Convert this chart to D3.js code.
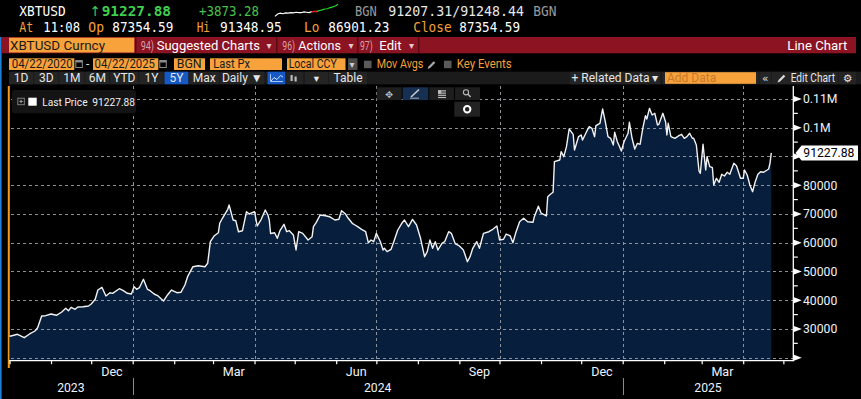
<!DOCTYPE html>
<html><head><meta charset="utf-8">
<script src="https://cdn.jsdelivr.net/npm/d3@7"></script>
<style>html,body{margin:0;padding:0;background:#000;overflow:hidden}svg{display:block}</style>
</head><body><svg id="c" width="861" height="399"></svg>
<script>
// ---------- DATA ----------
const dates = ["2023-10-01","2023-10-02","2023-10-07","2023-10-12","2023-10-16","2023-10-20","2023-10-22","2023-10-25","2023-10-28","2023-11-01","2023-11-05","2023-11-09","2023-11-12","2023-11-14","2023-11-16","2023-11-19","2023-11-21","2023-11-25","2023-11-29","2023-12-01","2023-12-04","2023-12-06","2023-12-09","2023-12-12","2023-12-15","2023-12-17","2023-12-22","2023-12-25","2023-12-28","2023-12-31",
"2024-01-02","2024-01-04","2024-01-06","2024-01-09","2024-01-12","2024-01-14","2024-01-17","2024-01-20","2024-01-24","2024-01-27","2024-01-30","2024-02-03","2024-02-06","2024-02-09","2024-02-11","2024-02-15","2024-02-19","2024-02-24","2024-02-26","2024-02-28","2024-03-02","2024-03-05","2024-03-06","2024-03-08","2024-03-12","2024-03-13","2024-03-16","2024-03-18","2024-03-20","2024-03-23","2024-03-26","2024-03-28","2024-04-01","2024-04-03","2024-04-06","2024-04-09","2024-04-11","2024-04-12","2024-04-13","2024-04-16","2024-04-18","2024-04-20","2024-04-23","2024-04-25","2024-04-27","2024-04-30","2024-05-02","2024-05-04","2024-05-07","2024-05-11","2024-05-14","2024-05-15","2024-05-17","2024-05-20","2024-05-24","2024-05-27","2024-05-31","2024-06-03","2024-06-05","2024-06-08","2024-06-10","2024-06-13","2024-06-15","2024-06-17","2024-06-20","2024-06-23","2024-06-25","2024-06-27","2024-06-29","2024-07-01","2024-07-04","2024-07-06","2024-07-07","2024-07-09","2024-07-12","2024-07-14","2024-07-17","2024-07-20","2024-07-22","2024-07-25","2024-07-28","2024-07-31","2024-08-03","2024-08-06","2024-08-08","2024-08-10","2024-08-12","2024-08-14","2024-08-16","2024-08-19","2024-08-21","2024-08-24","2024-08-26","2024-08-29","2024-09-01","2024-09-04","2024-09-07","2024-09-09","2024-09-11","2024-09-14","2024-09-16","2024-09-19","2024-09-23","2024-09-26","2024-09-29","2024-10-01","2024-10-04","2024-10-06","2024-10-09","2024-10-11","2024-10-13","2024-10-16","2024-10-19","2024-10-22","2024-10-26","2024-10-27","2024-10-30","2024-11-01","2024-11-05","2024-11-06","2024-11-08","2024-11-10","2024-11-11","2024-11-15","2024-11-16","2024-11-18","2024-11-20","2024-11-22","2024-11-25","2024-11-26","2024-11-29","2024-12-01","2024-12-02","2024-12-05","2024-12-07","2024-12-09","2024-12-11","2024-12-12","2024-12-15","2024-12-17","2024-12-19","2024-12-21","2024-12-23","2024-12-25","2024-12-26","2024-12-28","2024-12-30","2024-12-31",
"2025-01-02","2025-01-05","2025-01-06","2025-01-08","2025-01-10","2025-01-12","2025-01-14","2025-01-16","2025-01-18","2025-01-19","2025-01-21","2025-01-23","2025-01-25","2025-01-27","2025-01-28","2025-01-31","2025-02-02","2025-02-03","2025-02-04","2025-02-06","2025-02-09","2025-02-12","2025-02-14","2025-02-16","2025-02-18","2025-02-20","2025-02-22","2025-02-23","2025-02-25","2025-02-27","2025-02-28","2025-03-02","2025-03-04","2025-03-05","2025-03-07","2025-03-09","2025-03-10","2025-03-12","2025-03-14","2025-03-16","2025-03-18","2025-03-20","2025-03-22","2025-03-25","2025-03-27","2025-03-30","2025-04-01","2025-04-02","2025-04-04","2025-04-06","2025-04-08","2025-04-10","2025-04-12","2025-04-14","2025-04-16","2025-04-19","2025-04-20","2025-04-21","2025-04-22"];
const prices = [27400,27550,28140,26960,28250,29290,30440,34500,34610,35200,34750,35900,37190,36350,37530,36840,37640,37740,37990,38680,40320,43550,44490,41470,42610,42400,44000,43310,42400,42160,
44700,43800,44350,47270,43800,43310,42160,41470,39730,41820,43550,42610,42750,45290,48180,51660,52010,51660,52840,60360,62440,63490,66760,68500,71630,73120,67910,67660,63830,64180,70800,69990,70800,65820,68150,71380,69650,67910,63200,63490,61540,64180,66410,63830,64180,62690,57470,63830,63270,60950,62100,65580,66970,69650,69400,69050,67910,68150,71140,69990,68500,66760,66170,65580,64670,63830,60010,60950,60360,63270,60360,57470,58060,56880,57710,60360,64430,66760,67910,65580,68150,66170,61540,55140,56880,60950,58060,60360,57470,59790,60360,63830,63270,59560,58860,57470,53400,55140,58060,60360,58060,63270,63830,64670,65820,60950,61190,63030,62340,60010,63270,67320,68500,67320,67100,69050,72700,70300,69300,76000,76850,77540,88190,88780,91670,89930,93410,99570,97720,92260,96890,97480,95740,98630,100370,99810,96890,100710,101550,106520,102110,96890,96330,94000,98420,95150,93060,91910,
95150,98070,101900,96330,92610,94590,94240,99810,104190,103040,106760,104430,105030,100960,101200,105030,102110,97480,101550,96890,96330,97230,97720,96330,96890,98070,96330,96330,94000,84950,84150,94240,85300,89930,86450,86100,80080,82410,81020,83800,83210,84500,83800,87630,86800,82410,82410,85300,83560,80080,77750,81230,83800,84710,84500,85300,85650,87630,91227.88];
const yTicks = [20000,30000,40000,50000,60000,70000,80000,90000,100000,110000];
const yTickLabels = ["","30000","40000","50000","60000","70000","80000","","0.1M","0.11M"];
const yMinorTicks = [25000,35000,45000,55000,65000,75000,85000,95000,105000];
const gridDates = ["2024-01-01","2024-04-01","2024-07-01","2024-10-01","2025-01-01","2025-04-01"];
const monthLabelMonths = ["2023-12","2024-03","2024-06","2024-09","2024-12","2025-03"];
const monthLabelText = ["Dec","Mar","Jun","Sep","Dec","Mar"];
const yearLabels = ["2023","2024","2025"];
const lastPrice = 91227.88;
const lastPriceText = "91227.88";
const sparkValues = [87100,87900,88200,88000,88300,88200,88400,88300,88500,88400,88350,88600,88500,88400,88700,88750,88800,89100,89300,89600,89700,90100,90300,90600,91227];
const sparkSplit = 14;

// ---------- SETUP ----------
const svg = d3.select("#c");
const W = 861, H = 399;
const PX0 = 9, PX1 = 793.3, PY0 = 86, PY1 = 360.7;
const parse = d3.utcParse("%Y-%m-%d");
const parseM = d3.utcParse("%Y-%m");
const UI = "Roboto, 'Liberation Sans', sans-serif";
const MONO = "'DejaVu Sans Mono', 'Liberation Mono', monospace";
const SYM = "'DejaVu Sans', sans-serif";
const ORANGE = "#f7a23a", ORANGE_T = "#f5a03a", GREEN = "#3fcf4f";

svg.append("rect").attr("width",W).attr("height",H).attr("fill","#000");

function txt(x,y,s,o={}){
  const t = svg.append("text").attr("x",x).attr("y",y).text(s)
    .attr("font-family",o.f||UI).attr("font-size",o.s||13)
    .attr("font-weight",o.w||"normal").attr("fill",o.c||"#fff")
    .attr("text-anchor",o.a||"start");
  if(o.L) t.attr("textLength",o.L).attr("lengthAdjust","spacingAndGlyphs");
  return t;
}
function pencil(x,y,c){ // small pencil icon drawn as a path, (x,y)=bottom-left tip
  svg.append("path").attr("d",`M${x},${y} L${x+1},${y-2.6} L${x+6.2},${y-7.8} L${x+7.8},${y-6.2} L${x+2.6},${y-1} Z`).attr("fill",c);
}

// ---------- HEADER ROW 1 ----------
txt(19.3,15.8,"XBTUSD",{f:MONO,s:13.3,L:46.4});
txt(89.5,16,"↑",{f:SYM,s:13.5,c:GREEN});
txt(101.7,16.2,"91227.88",{f:MONO,s:14.6,w:"bold",c:GREEN,L:69.3});
txt(199,15.8,"+3873.28",{f:MONO,s:13.3,c:"#48c048",L:60});
const sx = d3.scaleLinear().domain([0,sparkValues.length-1]).range([275,338]);
const sy = d3.scaleLinear().domain([87000,91300]).range([16.7,4]);
const spts = sparkValues.map((v,i)=>[i,v]);
const sl = d3.line().x(d=>sx(d[0])).y(d=>sy(d[1]));
svg.append("path").attr("d",sl(spts.slice(0,sparkSplit+1))).attr("fill","none").attr("stroke","#fff").attr("stroke-width",1.2);
svg.append("path").attr("d",sl(spts.slice(sparkSplit,sparkSplit+3))).attr("fill","none").attr("stroke","#e02020").attr("stroke-width",1.6);
svg.append("path").attr("d",sl(spts.slice(sparkSplit+2))).attr("fill","none").attr("stroke","#22dd22").attr("stroke-width",1.2);
txt(355,15.8,"BGN",{f:MONO,s:13.3,c:"#9a9a9a",L:21.7});
txt(388.3,15.8,"91207.31/91248.44",{f:MONO,s:13.3,c:"#e8e8e8",L:135.7});
txt(533.3,15.8,"BGN",{f:MONO,s:13.3,c:"#9a9a9a",L:23.3});

// ---------- HEADER ROW 2 ----------
[["At",19.3,14,ORANGE_T],["11:08",43.3,36.7,"#fff"],["Op",88.3,15.7,ORANGE_T],["87354.59",112.3,61,"#fff"],["Hi",196.7,13.3,ORANGE_T],["91348.95",220,61.7,"#fff"],["Lo",304,15.3,ORANGE_T],["86901.23",328.3,61,"#fff"],["Close",413.3,38.3,ORANGE_T],["87354.59",459.3,60.7,"#fff"]]
 .forEach(d=>txt(d[1],32.3,d[0],{f:MONO,s:13.3,c:d[3],L:d[2]}));

svg.append("rect").attr("x",0).attr("y",37).attr("width",1.6).attr("height",H-37).attr("fill","#1e7fd8");

// ---------- RED BAR ----------
svg.append("rect").attr("x",2).attr("y",37).attr("width",854).attr("height",16.3).attr("fill","#8c1322");
svg.append("rect").attr("x",9).attr("y",37.7).attr("width",125.3).attr("height",14.8).attr("fill",ORANGE);
txt(10,50,"XBTUSD Curncy",{s:13.5,c:"#1a1a1a",L:95});
[135,276,357,418].forEach(x=>svg.append("rect").attr("x",x).attr("y",37).attr("width",1.5).attr("height",16.3).attr("fill","#5a0a14"));
[["94)",140.7,13.3,"Suggested Charts",156.7,103.3,266.5],["96)",282.3,12.7,"Actions",298.3,42.7,348.5],["97)",360,12.7,"Edit",379.3,22.3,409]].forEach(d=>{
  txt(d[1],50,d[0],{s:12,c:"#d9a0a8",L:d[2]});
  txt(d[4],50,d[3],{s:13.5,c:"#fff",L:d[5]});
  txt(d[6],49,"▾",{f:SYM,s:10,c:"#e8c8cc"});
});
txt(787.3,50,"Line Chart",{s:13.5,c:"#fff",L:60});

// ---------- ROW 4 (inputs) ----------
function box(x0,x1,label,tx,tl){
  svg.append("rect").attr("x",x0).attr("y",58.3).attr("width",x1-x0).attr("height",11.7).attr("fill",ORANGE);
  if(label) txt(tx,68.2,label,{s:12,c:"#1a1a1a",L:tl});
}
function cal(x){
  svg.append("rect").attr("x",x).attr("y",60.5).attr("width",6.5).attr("height",7).attr("fill","none").attr("stroke","#8a8a8a").attr("stroke-width",1);
  svg.append("rect").attr("x",x).attr("y",60.5).attr("width",6.5).attr("height",2).attr("fill","#8a8a8a");
}
box(9,74.3,"04/22/2020",11.7,61); cal(75.8);
txt(86,68,"-",{s:12,c:"#ddd"});
box(93,158.3,"04/22/2025",94.5,60.5); cal(159.8);
box(174,205,"BGN",176.7,25);
box(210,282,"Last Px",213.3,36.7);
box(287,345.5,"Local CCY",288.7,48);
svg.append("rect").attr("x",348).attr("y",58.3).attr("width",9.5).attr("height",11.7).attr("fill","#4a4a4a");
txt(349.5,67.5,"▾",{f:SYM,s:10,c:"#ccc"});
svg.append("rect").attr("x",364).attr("y",60.7).attr("width",7.5).attr("height",7.5).attr("fill","#5a5a5a");
txt(376.7,68.2,"Mov Avgs",{s:12,c:ORANGE_T,L:46.7});
pencil(427.5,69,"#aaa");
svg.append("rect").attr("x",444).attr("y",60.7).attr("width",7.5).attr("height",7.5).attr("fill","#5a5a5a");
txt(456.7,68.2,"Key Events",{s:12,c:ORANGE_T,L:55});

// ---------- ROW 5 (buttons) ----------
svg.append("rect").attr("x",9).attr("y",71.7).attr("width",852).attr("height",12.6).attr("fill","#1b1b1b");
const btns = [["1D",9,33.3],["3D",34.3,58.3],["1M",59.3,84.3],["6M",85.3,109.3],["YTD",110.3,138.3],["1Y",139.3,163.5],["5Y",164.5,188.3],["Max",189.3,219.3],["Daily ▼",220.3,264.3],["",267.5,285.3],["",286.3,303],["▾",305,328],["Table",329,367],
               ["+ Related Data ▾",570,660],["",662.5,758.5],["«",759.5,771],["Edit Chart",772,838],["⚙",839,856]];
btns.forEach((b,i)=>{
  const active = b[0]==="5Y" || i===9;
  svg.append("rect").attr("x",b[1]).attr("y",71.7).attr("width",b[2]-b[1]).attr("height",12.6).attr("fill",active?"#1659c4":"#242424");
  if(b[0]==="Edit Chart") { txt(790.7,82.2,b[0],{s:12,c:"#e6e6e6",L:44.3}); pencil(777.5,82.5,"#ddd"); }
  else if(b[0]) {
    const sym = /[▾▼«⚙]/.test(b[0]) && b[0].length<3;
    txt((b[1]+b[2])/2,82.2,b[0],{s:sym?10.5:12,f:sym?SYM:UI,a:"middle",c:"#e6e6e6"});
  }
});
svg.append("rect").attr("x",665).attr("y",72.2).attr("width",91).attr("height",11.6).attr("fill",ORANGE);
txt(667,82.2,"Add Data",{s:12,c:"#c87a2a"});
svg.append("path").attr("d","M271,81 L274,77.5 L277,79.5 L280.5,75.5 L283,77").attr("fill","none").attr("stroke","#cfe0ff").attr("stroke-width",1);
svg.append("path").attr("d","M270.5,74 V81.5 H283").attr("fill","none").attr("stroke","#cfe0ff").attr("stroke-width",0.8);
[[290.5,75,6],[294.5,76.5,5]].forEach(d=>{svg.append("rect").attr("x",d[0]).attr("y",d[1]).attr("width",2.2).attr("height",d[2]).attr("fill","#bbb");});

// ---------- SCALES ----------
const x = d3.scaleUtc().domain([parse("2024-01-01"),parse("2025-01-01")]).range([132.7,622.7]);
x.domain([x.invert(PX0), x.invert(PX1)]).range([PX0,PX1]);
const y = d3.scaleLinear().domain([20000,110000]).range([357.7,99.0]);
const data = dates.map((d,i)=>({d:parse(d),v:prices[i]}));

svg.append("rect").attr("x",7.8).attr("y",PY0).attr("width",2).attr("height",368-PY0).attr("fill","#f39a1e");

const area = d3.area().x(d=>x(d.d)).y0(PY1).y1(d=>y(d.v));
svg.append("path").datum(data).attr("d",area).attr("fill","#071e3d");

// grid
const gridG = svg.append("g");
function gline(x1,x2,y1,y2){
  gridG.append("line").attr("x1",x1).attr("x2",x2).attr("y1",y1).attr("y2",y2)
    .attr("stroke","#8e9299").attr("stroke-width",1).attr("stroke-dasharray","3 3").attr("shape-rendering","crispEdges");
}
yTicks.forEach(t=>{const yy=Math.round(y(t))+0.5; gline(PX0+2,PX1,yy,yy);});
gridDates.forEach(d=>{const xx=Math.round(x(parse(d)))+0.5; gline(xx,xx,PY0,PY1);});

// line
svg.append("path").datum(data).attr("d",d3.line().x(d=>x(d.d)).y(d=>y(d.v))).attr("fill","none").attr("stroke","#f2f2f2").attr("stroke-width",1.4).attr("stroke-linejoin","round");

// x axis
svg.append("line").attr("x1",PX0).attr("x2",PX1).attr("y1",PY1).attr("y2",PY1).attr("stroke","#fff").attr("stroke-width",1.2);
const xAxis = d3.axisBottom(x).ticks(d3.utcMonth.every(1)).tickSize(3.5).tickFormat("");
const xg = svg.append("g").attr("transform",`translate(0,${PY1})`).call(xAxis);
xg.select(".domain").remove();
xg.selectAll(".tick line").attr("stroke","#fff").attr("stroke-width",1.2);
monthLabelMonths.forEach((m,i)=>{
  const a = parseM(m), b = d3.utcMonth.offset(a,1);
  txt((x(a)+x(b))/2,375.5,monthLabelText[i],{s:12.6,a:"middle",c:"#eef2fa"});
});
const [dA,dB] = x.domain();
yearLabels.forEach(yr=>{
  const a = new Date(Date.UTC(+yr,0,1)), b = new Date(Date.UTC(+yr+1,0,1));
  const xa = x(a<dA?dA:a), xb = x(b>dB?dB:b);
  txt((xa+xb)/2,391.5,yr,{s:12.2,a:"middle",c:"#eef2fa"});
  if(a>dA) svg.append("line").attr("x1",Math.round(x(a))+0.5).attr("x2",Math.round(x(a))+0.5).attr("y1",378).attr("y2",395).attr("stroke","#8a8a8a").attr("stroke-width",1);
});

// y axis
svg.append("line").attr("x1",PX1).attr("x2",PX1).attr("y1",PY0).attr("y2",PY1+0.6).attr("stroke","#fff").attr("stroke-width",1.3);
yTicks.forEach((t,i)=>{
  const yy=y(t);
  svg.append("path").attr("d",`M${PX1},${yy-3.2} L${PX1+8.5},${yy} L${PX1},${yy+3.2} Z`).attr("fill","#fff");
  if(yTickLabels[i]) txt(803,yy+4.3,yTickLabels[i],{s:12.2,c:"#eef2fa"});
});
yMinorTicks.forEach(t=>svg.append("line").attr("x1",PX1).attr("x2",PX1+4.5).attr("y1",y(t)).attr("y2",y(t)).attr("stroke","#fff").attr("stroke-width",1.2));

const ly = y(lastPrice);
svg.append("path").attr("d",`M795.5,${ly} L801.5,${ly-7.5} H858 V${ly+7.5} H801.5 Z`).attr("fill","#fff");
txt(803.3,ly+4.3,lastPriceText,{s:12.2,c:"#000"});

// ---------- LEGEND ----------
svg.append("rect").attr("x",12).attr("y",90).attr("width",124).attr("height",23.3).attr("rx",3).attr("fill","#141414");
svg.append("rect").attr("x",17.8).attr("y",98.2).attr("width",6.5).attr("height",6.5).attr("fill","none").attr("stroke","#888").attr("stroke-width",0.9);
svg.append("path").attr("d","M19.3,101.45 H22.8 M21.05,99.7 V103.2").attr("stroke","#aaa").attr("stroke-width",0.9);
svg.append("rect").attr("x",28.3).attr("y",97.7).attr("width",8.4).attr("height",8).attr("fill","#fff");
txt(42.3,106.3,"Last Price",{s:10.2,c:"#f0f0f0"});
txt(92.3,106.3,lastPriceText,{s:10.2,c:"#f0f0f0"});

// ---------- CHART TOOLBAR ----------
[[376.7,401.7,"#1e1e1e"],[402.7,428.3,"#173052"],[429.3,454,"#1e1e1e"],[455,480,"#1e1e1e"]].forEach(b=>{
  svg.append("rect").attr("x",b[0]).attr("y",87.3).attr("width",b[1]-b[0]).attr("height",12.7).attr("fill",b[2]);
});
txt(389.2,97.5,"✥",{f:SYM,s:9.5,a:"middle",c:"#bbb"});
svg.append("path").attr("d","M411,97 L419,89.5").attr("stroke","#ccc").attr("stroke-width",1.6);
svg.append("path").attr("d","M410,98.2 H419").attr("stroke","#ccc").attr("stroke-width",0.8);
[90.3,92.5,94.7,96.9].forEach(yy=>svg.append("rect").attr("x",438).attr("y",yy).attr("width",8).attr("height",1.2).attr("fill","#bbb"));
svg.append("rect").attr("x",438).attr("y",90.2).attr("width",3.2).attr("height",3.6).attr("fill","#bbb");
svg.append("circle").attr("cx",466).attr("cy",92.3).attr("r",2.6).attr("fill","none").attr("stroke","#bbb").attr("stroke-width",1.1);
svg.append("path").attr("d","M468,94.3 L470.6,97").attr("stroke","#bbb").attr("stroke-width",1.4);
svg.append("rect").attr("x",454.3).attr("y",101.7).attr("width",25.7).attr("height",15).attr("fill","#222");
svg.append("circle").attr("cx",467.2).attr("cy",109.2).attr("r",3.2).attr("fill","none").attr("stroke","#fff").attr("stroke-width",2);
</script></body></html>
